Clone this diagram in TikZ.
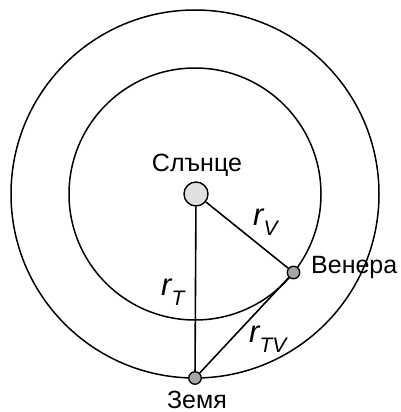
\documentclass[tikz,border=0pt]{standalone}
\usepackage{fontspec}
\setmainfont{Liberation Sans}
\begin{document}
\begin{tikzpicture}[x=1pt,y=-1pt,
  orbit/.style={draw=black,line width=1.5pt},
  link/.style={draw=black,line width=1.6pt},
  sunbody/.style={circle,draw=black,line width=1.4pt,fill=black!12,minimum size=24pt,inner sep=0pt},
  planet/.style={circle,draw=black,line width=1.3pt,fill=black!35,minimum size=12.5pt,inner sep=0pt},
  lbl/.style={font=\fontsize{25}{25}\selectfont,inner sep=0pt},
  rlbl/.style={inner sep=0pt}]
\useasboundingbox (0,0) rectangle (400,412);
\coordinate (O) at (195,194);
\draw[orbit] (O) circle[radius=184];
\draw[orbit] (O) circle[radius=126];
\node[sunbody] (S) at (196,194) {};
\node[planet] (V) at (293.5,272.5) {};
\node[planet] (E) at (195,378) {};
\draw[link] (S) -- (E);
\draw[link] (S) -- (V);
\draw[link] (V) -- (E);
\node[lbl,anchor=base] (ls) at (197,171) {Слънце};
\node[lbl,anchor=base west] (lv) at (311,273) {Венера};
\node[lbl,anchor=base] (le) at (197,408) {Земя};
\newcommand{\rsub}[1]{{\fontsize{31}{31}\selectfont\itshape r}\raisebox{-10pt}{\fontsize{21}{21}\selectfont\itshape #1}}
\node[rlbl,anchor=base west] (rv) at (253,225) {\rsub{V}};
\node[rlbl,anchor=base west] (rt) at (161,295) {\rsub{T}};
\node[rlbl,anchor=base west] (rtv) at (249,342) {\rsub{TV}};
\end{tikzpicture}
\end{document}
